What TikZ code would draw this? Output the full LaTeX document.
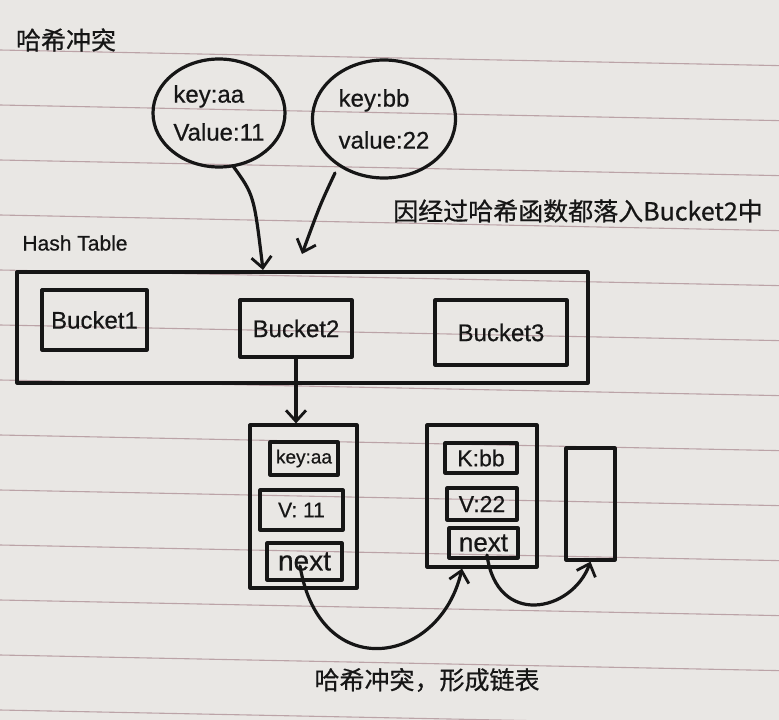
\documentclass[tikz,border=0pt]{standalone}
\usepackage{fontspec}
\setmainfont[FakeBold=0.6]{Liberation Sans}
\newfontfamily\cjk[FakeBold=0.6]{Noto Sans CJK SC}
\usetikzlibrary{arrows.meta,shapes.geometric}
\definecolor{paper}{HTML}{E9E7E4}
\definecolor{rulecol}{HTML}{BBA3A7}
\definecolor{ink}{HTML}{161616}
\begin{document}
\begin{tikzpicture}[x=1pt,y=-1pt,
  ink line/.style={draw=ink,line width=3.2pt,line join=round,line cap=round},
  box/.style={ink line,rectangle,inner sep=0pt,text=ink},
  blob/.style={ink line,ellipse,inner sep=0pt,text=ink,align=left,font=\fontsize{24}{38}\selectfont},
  arr/.style={ink line,-{Straight Barb[length=11pt,width=20pt,line width=2.8pt]}},
  hand/.style={text=ink,inner sep=0pt},
  cjktext/.style={hand,font=\cjk\fontsize{25}{30}\selectfont},
  latin/.style={hand,font=\fontsize{#1}{#1}\selectfont},
  latin/.default=22
]
% paper
\fill[paper] (0,0) rectangle (779,720);
\useasboundingbox (0,0) rectangle (779,720);
\foreach \i in {0,...,12}{
  \draw[rulecol,line width=1.1pt] (0,{50+55*\i}) -- (779,{50+55*\i+15.6});
}
% titles
\node[cjktext] (title) at (66,40) {哈希冲突};
\node[cjktext] (note) at (578,211) {因经过哈希函数都落入Bucket2中};
\node[latin=21] (htlabel) at (75,243) {Hash Table};
\node[cjktext] (bottom) at (427,680) {哈希冲突，形成链表};
% entries
\node[blob,minimum width=132pt,minimum height=108pt] (c1) at (219,113) {key:aa\\Value:11};
\node[blob,minimum width=143pt,minimum height=118pt] (c2) at (384,119) {key:bb\\[4pt]value:22};
% hash table
\node[box,minimum width=571pt,minimum height=111pt] (ht) at (302.5,327.5) {};
\node[box,latin=24,minimum width=105pt,minimum height=60pt] (b1) at (94.5,320) {Bucket1};
\node[box,latin=24,minimum width=112pt,minimum height=57pt] (b2) at (296,328.5) {Bucket2};
\node[box,latin=24,minimum width=132pt,minimum height=65pt] (b3) at (501,332.5) {Bucket3};
% linked list node 1
\node[box,minimum width=107pt,minimum height=163pt] (n1) at (303.5,506.5) {};
\node[box,latin=19,minimum width=68pt,minimum height=33pt] (n1k) at (304,458.5) {key:aa};
\node[box,latin=21,minimum width=83pt,minimum height=40pt] (n1v) at (301.5,510) {V: 11};
\node[box,latin=28,minimum width=75pt,minimum height=37pt] (n1n) at (304.5,561.5) {next};
% linked list node 2
\node[box,minimum width=110pt,minimum height=142pt] (n2) at (482,496) {};
\node[box,latin=23,minimum width=72pt,minimum height=30pt] (n2k) at (481,458) {K:bb};
\node[box,latin=23,minimum width=70pt,minimum height=32pt] (n2v) at (482,504) {V:22};
\node[box,latin=26,minimum width=69pt,minimum height=30pt] (n2n) at (483.5,543) {next};
% node 3 (empty)
\node[box,minimum width=49pt,minimum height=112pt] (n3) at (590.5,504) {};
% connectors
\coordinate (s1) at (233,166);
\coordinate (s2) at (335,173);
\coordinate (t1) at (263,270);
\coordinate (t2) at (302,254);
\draw[arr] (s1) .. controls (254,195) .. (t1);
\draw[arr] (s2) .. controls (320,205) .. (t2);
\draw[arr] (b2.south) -- (n1.north -| b2.south);
\coordinate (p1) at (300,566);
\coordinate (p2) at (487,555);
\draw[arr] (p1) .. controls (320,685) and (440,665) .. (n2.south west -| 462,0);
\draw[arr] (p2) .. controls (497,628) and (572,612) .. (n3.south);
\end{tikzpicture}
\end{document}
